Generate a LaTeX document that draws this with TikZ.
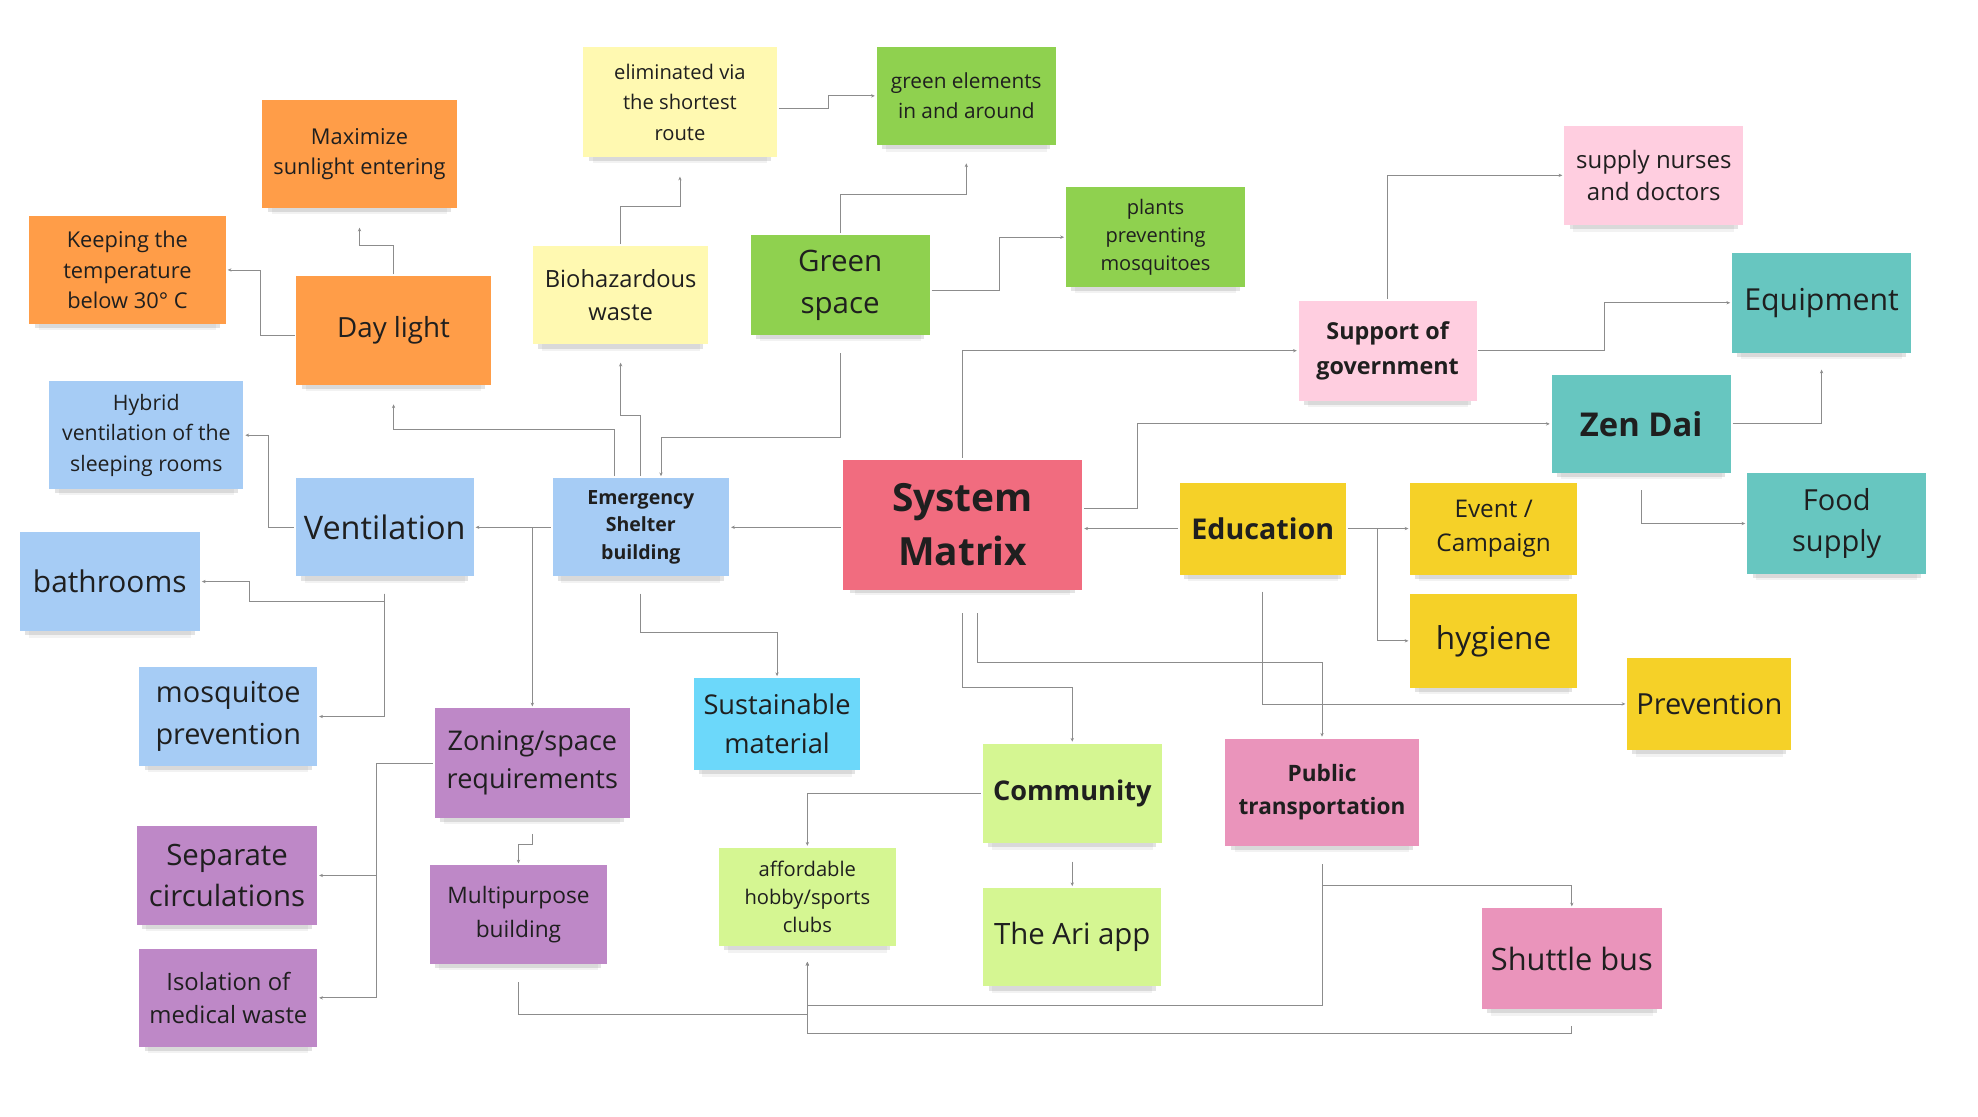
\documentclass[tikz,border=0pt]{standalone}
\usepackage{fontspec}
\setmainfont{Open Sans}
\usetikzlibrary{shadows,arrows.meta}
\newcommand\notefont[2]{\fontsize{#1}{#2}\selectfont}
\definecolor{orng}{HTML}{FF9D48}
\definecolor{lyel}{HTML}{FFF9B1}
\definecolor{grn}{HTML}{8FD14F}
\definecolor{lpnk}{HTML}{FFCEE0}
\definecolor{teal}{HTML}{67C6C0}
\definecolor{blu}{HTML}{A6CCF5}
\definecolor{red}{HTML}{F16C7F}
\definecolor{yel}{HTML}{F5D128}
\definecolor{cyn}{HTML}{6CD8FA}
\definecolor{prp}{HTML}{BE88C7}
\definecolor{lime}{HTML}{D5F692}
\definecolor{pnk}{HTML}{EA94BB}
\begin{document}
\begin{tikzpicture}[x=1pt,y=-1pt,>={Stealth[length=3pt,width=2.6pt]},line width=.6pt,
  note/.style 2 args={inner sep=0pt,outer sep=1.5pt,minimum width=#1pt,minimum height=#2pt,
    align=center,text=black!88,
    drop shadow={shadow xshift=0pt,shadow yshift=-10pt,shadow scale=.9,opacity=.1},
    drop shadow={shadow xshift=0pt,shadow yshift=-6pt,shadow scale=.94,opacity=.22}},
  link/.style={draw=black!45,->}]
  \useasboundingbox (0,0) rectangle (1568,885);
  % left column
  \node[note={154}{86},fill=orng,font=\notefont{17.3}{24}] (max) at (285,122) {Maximize\\sunlight entering};
  \node[note={156}{86},fill=orng,font=\notefont{17.3}{24}] (keep) at (101,214) {Keeping the\\temperature\\below 30° C};
  \node[note={154}{86},fill=orng,font=\notefont{22}{30}] (day) at (312,262) {Day light};
  \node[note={154}{86},fill=blu,font=\notefont{16.9}{24}] (hybrid) at (116,345) {Hybrid\\ventilation of the\\sleeping rooms};
  \node[note={141}{78},fill=blu,font=\notefont{25.7}{32}] (vent) at (305,418) {Ventilation};
  \node[note={143}{79},fill=blu,font=\notefont{23.7}{32}] (bath) at (87,461) {bathrooms};
  \node[note={141}{78},fill=blu,font=\notefont{22.9}{33}] (mosq) at (181,568) {mosquitoe\\prevention};
  \node[note={155}{87},fill=prp,font=\notefont{21.5}{30}] (zoning) at (422,605) {Zoning/space\\requirements};
  \node[note={143}{78},fill=prp,font=\notefont{23.3}{33}] (sep) at (180,694) {Separate\\circulations};
  \node[note={140}{78},fill=prp,font=\notefont{18}{27}] (multi) at (411,725) {Multipurpose\\building};
  \node[note={141}{78},fill=prp,font=\notefont{18.9}{26}] (iso) at (181,791) {Isolation of\\medical waste};
  % middle
  \node[note={154}{87},fill=lyel,font=\notefont{16}{24}] (elim) at (539,81) {eliminated via\\the shortest\\route};
  \node[note={139}{78},fill=lyel,font=\notefont{18.8}{26}] (bio) at (492,234) {Biohazardous\\waste};
  \node[note={142}{78},fill=grn,font=\notefont{16.5}{24}] (gel) at (766,76) {green elements\\in and around};
  \node[note={142}{79},fill=grn,font=\notefont{23.4}{33}] (green) at (666,226) {Green\\space};
  \node[note={142}{79},fill=grn,font=\notefont{15.9}{22}] (plants) at (916,188) {plants\\preventing\\mosquitoes};
  \node[note={140}{78},fill=blu,font=\bfseries\notefont{15.5}{22}] (esb) at (508,418) {Emergency\\Shelter\\building};
  \node[note={190}{103},fill=red,font=\bfseries\notefont{30.8}{43}] (sm) at (763,416) {System\\Matrix};
  \node[note={132}{73},fill=cyn,font=\notefont{21.6}{31}] (sust) at (616,574) {Sustainable\\material};
  \node[note={142}{79},fill=lime,font=\bfseries\notefont{21.5}{30}] (comm) at (850,629) {Community};
  \node[note={140}{78},fill=lime,font=\notefont{16}{22}] (afford) at (640,711) {affordable\\hobby/sports\\clubs};
  \node[note={141}{78},fill=lime,font=\notefont{23.3}{32}] (ari) at (850,743) {The Ari app};
  \node[note={154}{85},fill=pnk,font=\bfseries\notefont{17.9}{26}] (pt) at (1048,628) {Public\\transportation};
  \node[note={143}{80},fill=pnk,font=\notefont{24.4}{32}] (shuttle) at (1246,760) {Shuttle bus};
  % right
  \node[note={142}{79},fill=lpnk,font=\notefont{19}{25}] (nurses) at (1311,139) {supply nurses\\and doctors};
  \node[note={141}{79},fill=lpnk,font=\bfseries\notefont{18.5}{28}] (sog) at (1100,278) {Support of\\government};
  \node[note={142}{79},fill=teal,font=\notefont{24}{32}] (equip) at (1444,240) {Equipment};
  \node[note={142}{78},fill=teal,font=\bfseries\notefont{26}{34}] (zen) at (1301,336) {Zen Dai};
  \node[note={142}{80},fill=teal,font=\notefont{23}{33}] (food) at (1456,415) {Food\\supply};
  \node[note={132}{73},fill=yel,font=\bfseries\notefont{22.7}{30}] (edu) at (1001,419) {Education};
  \node[note={132}{73},fill=yel,font=\notefont{19.3}{27}] (event) at (1184,419) {Event /\\Campaign};
  \node[note={132}{74},fill=yel,font=\notefont{25}{32}] (hyg) at (1184,508) {hygiene};
  \node[note={130}{73},fill=yel,font=\notefont{23}{32}] (prev) at (1355,558) {Prevention};

  % connectors
  \draw[link] (esb.east -| sm.west) -- (esb.east);
  \draw[link] (edu.west) -- (edu.west -| sm.east);
  \draw[link] ([yshift=13pt]sm.east) -- ++(42,0) |- (zen.west);
  \draw[link] (sm.north) |- (sog.west);
  \draw[link] (sog.north) |- (nurses.west);
  \draw[link] (sog.east) -- ++(100,0) |- (equip.west);
  \draw[link,shorten >=12pt] (zen.east) -| (equip.south);
  \draw[link,shorten <=12pt] (zen.south) |- (food.west);
  \draw[link] (edu.east) -- (event.west);
  \draw[link] (edu.east) -- ++(23,0) |- (hyg.west);
  \draw[link,shorten <=12pt] (edu.south) |- (prev.west);
  \draw[link,shorten <=17pt] (sm.south) -- ++(0,76) -| (comm.north);
  \draw[link,shorten <=17pt] ([xshift=12pt]sm.south) -- ++(0,56) -| (pt.north);
  \draw[link,shorten <=13pt] (comm.south) -- (ari.north);
  \draw[link] (comm.west) -| (afford.north);
  \draw[link,shorten <=13pt] (pt.south) -- ++(0,30) -| (shuttle.north);
  \draw[link,shorten <=13pt,shorten >=11pt] (pt.south) -- ++(0,125) -| (afford.south);
  \draw[link,shorten <=12pt,shorten >=11pt] (shuttle.south) -- ++(0,18) -| (afford.south);
  \draw[link,shorten <=13pt,shorten >=11pt] (multi.south) -- ++(0,39) -| (afford.south);
  \draw[link] (esb.west) -- (vent.east);
  \draw[link] (esb.west) -| (zoning.north);
  \draw[link,shorten >=14pt] ([xshift=-21pt]esb.north) -- ++(0,-37) -| (day.south);
  \draw[link,shorten >=13pt] (esb.north) -- ++(0,-48) -| (bio.south);
  \draw[link,shorten <=13pt] (green.south) -- ++(0,80) -| ([xshift=16pt]esb.north);
  \draw[link,shorten <=12pt] (esb.south) -- ++(0,43) -| (sust.north);
  \draw[link,shorten >=14pt] (bio.north) -- ++(0,-30) -| (elim.south);
  \draw[link] ([yshift=-5pt]elim.east) -- ++(39,0) |- (gel.west);
  \draw[link,shorten >=13pt] (green.north) -- ++(0,-31) -| (gel.south);
  \draw[link] ([yshift=-4pt]green.east) -- ++(54,0) |- (plants.west);
  \draw[link,shorten >=14pt] (day.north) -- ++(0,-23) -| (max.south);
  \draw[link] ([yshift=-4pt]day.west) -- ++(-27,0) |- (keep.east);
  \draw[link] (vent.west) -- ++(-20,0) |- (hybrid.east);
  \draw[link,shorten <=12pt] (vent.south) -- ++(0,18) -| ([xshift=38pt]bath.east) -- (bath.east);
  \draw[link,shorten <=12pt] (vent.south) |- (mosq.east);
  \draw[link] (zoning.west) -- ++(-45,0) |- (sep.east);
  \draw[link] (zoning.west) -- ++(-45,0) |- (iso.east);
  \draw[link,shorten <=11pt] (zoning.south) -- ++(0,19) -| (multi.north);
\end{tikzpicture}
\end{document}
